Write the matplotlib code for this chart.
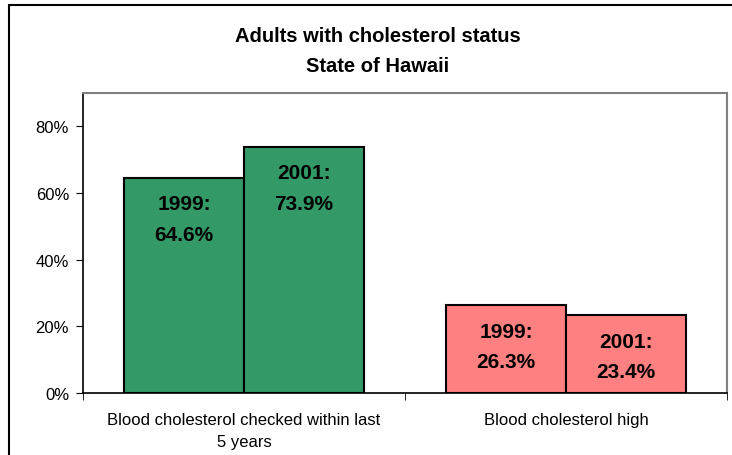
import numpy as np
import matplotlib
matplotlib.use("Agg")
import matplotlib.pyplot as plt
from matplotlib.patches import Rectangle

plt.rcParams['font.family'] = ['Liberation Sans', 'DejaVu Sans']

categories = ['Blood cholesterol checked within last\n5 years', 'Blood cholesterol high']
years = ['1999', '2001']
values_1999 = [64.6, 26.3]
values_2001 = [73.9, 23.4]
colors = ['#339966', '#FF8080']

fig = plt.figure(figsize=(7.32, 4.56), dpi=100)
ax = fig.add_axes([83/732, 1-394/456, (727-83)/732, (394-94)/456])

x = np.arange(len(categories))
w = 0.373
for i in range(len(categories)):
    for j, vals in enumerate([values_1999, values_2001]):
        xpos = x[i] - w/2 + j*w
        ax.bar(xpos, vals[i]/100, width=w, color=colors[i], edgecolor='black', linewidth=1.5, zorder=2)
        ax.annotate(f'{years[j]}:\n{vals[i]:.1f}%', (xpos, vals[i]/100), xytext=(0, -12),
                    textcoords='offset points', ha='center', va='top', fontsize=15,
                    fontweight='bold', linespacing=1.75)

ax.set_xlim(-0.5, 1.5)
ax.set_ylim(0, 0.9)
ax.set_yticks([0, 0.2, 0.4, 0.6, 0.8])
ax.set_yticklabels(['0%', '20%', '40%', '60%', '80%'], fontsize=12)
ax.set_xticks(x)
ax.set_xticklabels(categories, fontsize=12, linespacing=1.55)
ax.tick_params(axis='x', length=0, pad=14)
ax.set_xticks([-0.5, 0.5, 1.5], minor=True)
ax.tick_params(axis='x', which='minor', length=5, direction='out')
ax.tick_params(axis='y', length=5, direction='out', pad=5)
for s in ['top', 'right']:
    ax.spines[s].set_color('#808080')
    ax.spines[s].set_linewidth(1.5)
for s in ['left', 'bottom']:
    ax.spines[s].set_color('black')
    ax.spines[s].set_linewidth(1.2)

fig.text(378/732, 1-37/456, 'Adults with cholesterol status', ha='center', va='center',
         fontsize=14.5, fontweight='bold')
fig.text(378/732, 1-66/456, 'State of Hawaii', ha='center', va='center',
         fontsize=14.5, fontweight='bold')

fig.patches.append(Rectangle((9/732, -0.1), 1.0, 1-6/456+0.1, transform=fig.transFigure,
                             fill=False, edgecolor='black', linewidth=1.5))

fig.savefig('out.png', dpi=100)
